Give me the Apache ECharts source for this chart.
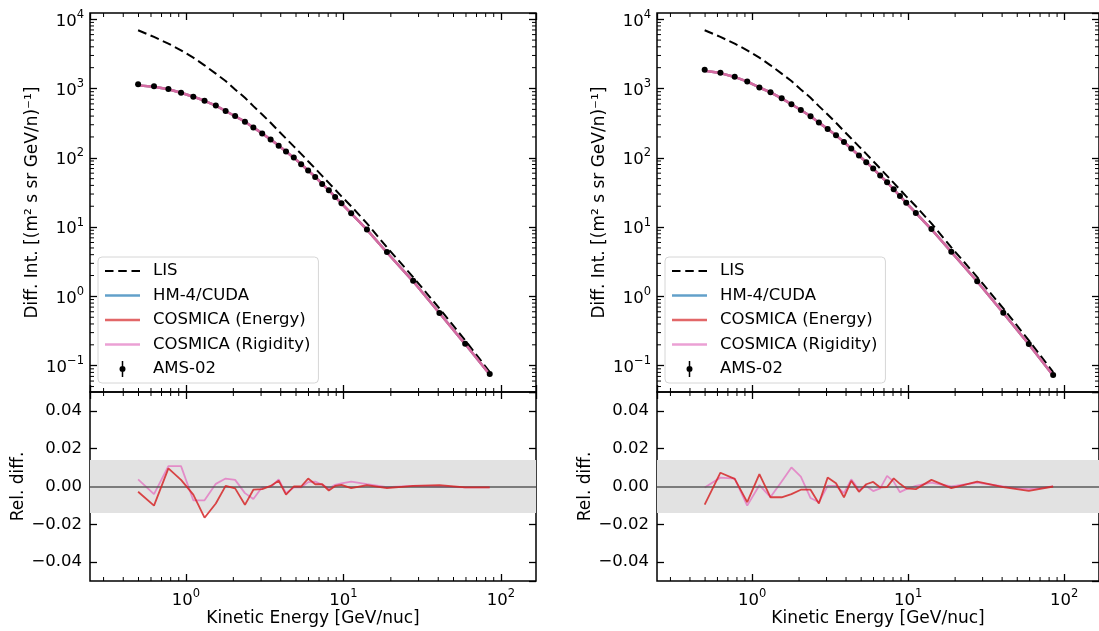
<!DOCTYPE html>
<html><head><meta charset="utf-8">
<script src="https://cdn.jsdelivr.net/npm/echarts@6/dist/echarts.min.js"></script>
<style>html,body{margin:0;padding:0;background:#fff}#c{width:1099px;height:631px}</style>
</head><body><div id="c"></div>
<script>
// ---------------- data ----------------
const energy = [0.497, 0.627, 0.774, 0.931, 1.114, 1.313, 1.548, 1.787, 2.053, 2.37, 2.68, 3.05, 3.45, 3.88, 4.32, 4.84, 5.39, 5.97, 6.62, 7.33, 8.08, 8.86, 9.72, 11.2, 14.1, 18.9, 27.7, 40.7, 59.3, 84.9];
const lisFlux = [6934, 5550, 4446, 3561, 2791, 2163, 1638, 1283, 971, 736, 557, 422, 320, 243, 190, 146, 114, 89.3, 70, 54.8, 43.4, 34.7, 27.8, 20, 11.3, 5.1, 1.9, 0.67, 0.232, 0.081];
const amsLeft = [1148, 1074, 982, 869, 760, 666, 570, 472, 400, 331, 274, 224, 184, 149, 123, 101, 80.8, 65.4, 53, 42, 34, 27.2, 22, 15.8, 9.27, 4.36, 1.68, 0.578, 0.208, 0.0757];
const modelLeft = [1110, 1060, 975, 868, 762, 665, 568, 474, 398, 332, 274, 225, 184, 150, 123, 100.5, 81, 65.5, 53, 42.2, 34, 27.3, 22, 15.8, 9.2, 4.3, 1.65, 0.575, 0.205, 0.0745];
const amsRight = [1866, 1688, 1476, 1263, 1033, 884, 724, 593, 491, 397, 322, 260, 211, 169, 136, 108, 86.5, 70, 55.5, 44.4, 35.1, 28.1, 22.5, 16, 9.36, 4.4, 1.65, 0.579, 0.206, 0.0733];
const modelRight = [1800, 1670, 1470, 1260, 1035, 882, 722, 592, 490, 398, 322, 260, 211, 169, 136, 108, 86.5, 70, 55.5, 44.4, 35.1, 28.1, 22.4, 16, 9.3, 4.38, 1.64, 0.575, 0.204, 0.072];
const relEnergyLeft = [-0.0028, -0.0101, 0.0096, 0.0035, -0.0043, -0.0165, -0.009, 0.0003, -0.001, -0.0097, -0.0017, -0.0014, 0.0003, 0.0031, -0.0043, 0, 0, 0.0042, 0.0012, 0.0012, -0.0021, 0.0003, 0.0009, -0.0009, 0.0007, -0.0009, 0.0003, 0.0007, -0.0005, -0.0005];
const relRigidityLeft = [0.0038, -0.004, 0.0108, 0.0108, -0.0073, -0.0073, 0.0014, 0.0042, 0.0035, -0.0035, -0.0066, -0.0003, -0.0003, 0.0038, -0.0035, -0.0005, -0.0005, 0.0023, 0.0026, 0.0009, -0.001, 0.0009, 0.0017, 0.0026, 0.0012, -0.0003, 0.0003, 0, -0.0005, -0.0005];
const relEnergyRight = [-0.0096, 0.0073, 0.004, -0.0083, 0.0066, -0.0057, -0.0057, -0.004, -0.0017, -0.0017, -0.009, 0.0047, 0.0017, -0.0057, 0.003, -0.0028, 0.0012, 0.0024, -0.0005, -0.0003, 0.0043, 0.0014, -0.001, -0.0014, 0.0035, -0.0009, 0.0026, -0.0003, -0.0023, 0];
const relRigidityRight = [-0.0005, 0.0047, 0.0042, -0.0101, 0.0007, -0.0056, 0.0026, 0.0101, 0.0052, -0.0061, -0.0083, 0.0003, 0.0003, -0.0035, 0.0038, -0.0017, 0.0003, -0.0024, -0.001, 0.0056, 0.0026, -0.003, -0.0014, 0.0003, 0.0021, 0, 0.0021, 0, -0.0014, 0];
const bandHalfWidth = 0.014;
const xMinorTicks = [0.3, 0.4, 0.5, 0.6, 0.7, 0.8, 0.9, 2, 3, 4, 5, 6, 7, 8, 9, 20, 30, 40, 50, 60, 70, 80, 90];
const yMinorTicks = [0.05, 0.06, 0.07, 0.08, 0.09, 0.2, 0.3, 0.4, 0.5, 0.6, 0.7, 0.8, 0.9, 2, 3, 4, 5, 6, 7, 8, 9, 20, 30, 40, 50, 60, 70, 80, 90, 200, 300, 400, 500, 600, 700, 800, 900, 2000, 3000, 4000, 5000, 6000, 7000, 8000, 9000];
const legendNames = ['LIS', 'HM-4/CUDA', 'COSMICA (Energy)', 'COSMICA (Rigidity)', 'AMS-02'];
const xTitle = 'Kinetic Energy [GeV/nuc]';
const yTitleTop = 'Diff. Int. [(m\u00B2 s sr GeV/n)\u207B\u00B9]';
const yTitleBottom = 'Rel. diff.';

// ---------------- styling / layout ----------------
const FONT = 'DejaVu Sans';
const X_MIN = 0.246, X_MAX = 167;
const Y_MIN = 0.0417, Y_MAX = 12300;
const R_MIN = -0.05, R_MAX = 0.05;
const C_BLUE = '#1f77b4', C_RED = '#d62728', C_PINK = '#e377c2';

function pow10Label(v) {
  const l = Math.log10(v);
  const e = Math.round(l);
  if (Math.abs(l - e) > 0.01) return '';
  const s = e < 0 ? '\u2212' + (-e) : String(e);
  return '{b|10}{s|' + s + '}';
}
function relLabel(v) {
  if (Math.abs(v * 50 - Math.round(v * 50)) > 1e-6) return '';
  if (Math.abs(v) < 1e-9) return '0.00';
  return (v < 0 ? '\u2212' : '') + Math.abs(v).toFixed(2);
}
const richSup = {
  b: {fontFamily: FONT, fontSize: 16.5, color: '#000', lineHeight: 21, verticalAlign: 'bottom'},
  s: {fontFamily: FONT, fontSize: 11.5, color: '#000', lineHeight: 12, verticalAlign: 'top'}
};

const grids = [
  {left: 90, top: 13, width: 446, height: 379},
  {left: 90, top: 392, width: 446, height: 189},
  {left: 657, top: 13, width: 446, height: 379},
  {left: 657, top: 392, width: 446, height: 189}
].map(g => Object.assign(g, {show: true, borderColor: '#000', borderWidth: 1.5, backgroundColor: 'transparent'}));

function xAx(gridIndex, position, showLabels) {
  return {
    type: 'log', logBase: 10, gridIndex, position, min: X_MIN, max: X_MAX,
    axisLine: {show: false, onZero: false},
    axisTick: {show: true, inside: true, length: 7, lineStyle: {color: '#000', width: 1.3}},
    splitLine: {show: false},
    axisLabel: showLabels ? {show: true, formatter: pow10Label, rich: richSup, margin: 7, showMinLabel: false, showMaxLabel: false} : {show: false},
    name: showLabels ? xTitle : '', nameLocation: 'middle', nameGap: 26,
    nameTextStyle: {fontFamily: FONT, fontSize: 17, color: '#000'}
  };
}
function yLogAx(gridIndex, position, showLabels) {
  return {
    type: 'log', logBase: 10, gridIndex, position, min: Y_MIN, max: Y_MAX,
    axisLine: {show: false, onZero: false},
    axisTick: {show: true, inside: true, length: 7, lineStyle: {color: '#000', width: 1.3}},
    splitLine: {show: false},
    axisLabel: showLabels ? {show: true, formatter: pow10Label, rich: richSup, margin: 6, showMinLabel: false, showMaxLabel: false} : {show: false},
    name: showLabels ? yTitleTop : '', nameLocation: 'middle', nameGap: 49,
    nameTextStyle: {fontFamily: FONT, fontSize: 17, color: '#000'}
  };
}
function yRelAx(gridIndex, position, showLabels) {
  return {
    type: 'value', gridIndex, position, min: R_MIN, max: R_MAX,
    axisLine: {show: false, onZero: false},
    axisTick: {show: true, inside: true, length: 7, lineStyle: {color: '#000', width: 1.3}},
    splitLine: {show: false},
    axisLabel: showLabels ? {show: true, formatter: relLabel, margin: 8, showMinLabel: false, showMaxLabel: false,
      fontFamily: FONT, fontSize: 16.5, color: '#000'} : {show: false},
    name: showLabels ? yTitleBottom : '', nameLocation: 'middle', nameGap: 49,
    nameTextStyle: {fontFamily: FONT, fontSize: 17, color: '#000'}
  };
}

const xAxes = [], yAxes = [];
for (let p = 0; p < 2; p++) {
  const gTop = p * 2, gBot = p * 2 + 1;
  xAxes.push(xAx(gTop, 'bottom', false), xAx(gTop, 'top', false), xAx(gBot, 'bottom', true), xAx(gBot, 'top', false));
  yAxes.push(yLogAx(gTop, 'left', true), yLogAx(gTop, 'right', false), yRelAx(gBot, 'left', true), yRelAx(gBot, 'right', false));
}

function minorTicks(axisIdx, logY) {
  const yRef = logY ? 1 : 0;
  const data = xMinorTicks.map(v => [v, yRef, 0]);
  if (logY) yMinorTicks.forEach(v => data.push([1, v, 1]));
  return {
    type: 'custom', xAxisIndex: axisIdx, yAxisIndex: axisIdx, silent: true, z: 20, animation: false,
    data,
    renderItem(params, api) {
      const cs = params.coordSys;
      const st = {stroke: '#000', lineWidth: 1};
      if (api.value(2) === 0) {
        const x = api.coord([api.value(0), yRef])[0];
        return {type: 'group', children: [
          {type: 'line', shape: {x1: x, y1: cs.y, x2: x, y2: cs.y + 4}, style: st},
          {type: 'line', shape: {x1: x, y1: cs.y + cs.height, x2: x, y2: cs.y + cs.height - 4}, style: st}
        ]};
      }
      const y = api.coord([1, api.value(1)])[1];
      return {type: 'group', children: [
        {type: 'line', shape: {x1: cs.x, y1: y, x2: cs.x + 4, y2: y}, style: st},
        {type: 'line', shape: {x1: cs.x + cs.width, y1: y, x2: cs.x + cs.width - 4, y2: y}, style: st}
      ]};
    }
  };
}

function pairs(xs, ys) { return xs.map((x, i) => [x, ys[i]]); }

function topSeries(axisIdx, ams, model) {
  const base = {xAxisIndex: axisIdx, yAxisIndex: axisIdx, animation: false, silent: true};
  return [
    Object.assign({type: 'line', name: 'LIS', data: pairs(energy, lisFlux), symbol: 'none', z: 3,
      lineStyle: {color: '#000', width: 2, type: [9, 4.5]}, itemStyle: {color: '#000'}}, base),
    Object.assign({type: 'line', name: 'HM-4/CUDA', data: pairs(energy, model), symbol: 'none', z: 4,
      lineStyle: {color: C_BLUE, width: 2.5, opacity: 0.7}, itemStyle: {color: C_BLUE, opacity: 0.7}}, base),
    Object.assign({type: 'line', name: 'COSMICA (Energy)', data: pairs(energy, model), symbol: 'none', z: 5,
      lineStyle: {color: C_RED, width: 2.5, opacity: 0.7}, itemStyle: {color: C_RED, opacity: 0.7}}, base),
    Object.assign({type: 'line', name: 'COSMICA (Rigidity)', data: pairs(energy, model), symbol: 'none', z: 6,
      lineStyle: {color: C_PINK, width: 2.5, opacity: 0.7}, itemStyle: {color: C_PINK, opacity: 0.7}}, base),
    Object.assign({type: 'scatter', name: 'AMS-02', data: pairs(energy, ams), symbol: 'circle', symbolSize: 6, z: 8,
      itemStyle: {color: '#000', opacity: 1}}, base),
    minorTicks(axisIdx, true)
  ];
}
function bottomSeries(axisIdx, relE, relR) {
  const base = {xAxisIndex: axisIdx, yAxisIndex: axisIdx, animation: false, silent: true};
  return [
    Object.assign({type: 'line', name: 'band', data: [[1, 0]], symbol: 'none', z: 1,
      lineStyle: {opacity: 0},
      markArea: {silent: true, itemStyle: {color: '#e2e2e2'}, data: [[{yAxis: -bandHalfWidth}, {yAxis: bandHalfWidth}]]},
      markLine: {silent: true, symbol: 'none', label: {show: false}, lineStyle: {color: '#5a5a5a', width: 1.6, type: 'solid'}, data: [{yAxis: 0}]}
    }, base),
    Object.assign({type: 'line', name: 'COSMICA (Energy)', data: pairs(energy, relE), symbol: 'none', z: 5,
      lineStyle: {color: C_RED, width: 1.8, opacity: 0.85}, itemStyle: {color: C_RED}}, base),
    Object.assign({type: 'line', name: 'COSMICA (Rigidity)', data: pairs(energy, relR), symbol: 'none', z: 4,
      lineStyle: {color: C_PINK, width: 1.8, opacity: 0.8}, itemStyle: {color: C_PINK}}, base),
    minorTicks(axisIdx, false)
  ];
}

const legendIcons = {
  'LIS': 'path://M0,0h8.5v2h-8.5z M13.25,0h8.5v2h-8.5z M26.5,0h8.5v2h-8.5z',
  'HM-4/CUDA': 'path://M0,0h35v2.5h-35z',
  'COSMICA (Energy)': 'path://M0,0h35v2.5h-35z',
  'COSMICA (Rigidity)': 'path://M0,0h35v2.5h-35z',
  'AMS-02': 'path://M2.25,0h1.5v16h-1.5z M0,8a3,3 0 1,1 6,0a3,3 0 1,1 -6,0z'
};
function legendAt(left) {
  return {
    left, top: 257, orient: 'vertical', selectedMode: false,
    data: legendNames.map(n => ({name: n, icon: legendIcons[n]})),
    itemWidth: 35, itemHeight: 16, itemGap: 4.5,
    padding: [4, 8, 4, 7],
    backgroundColor: 'rgba(255,255,255,0.85)', borderColor: '#d6d6d6', borderWidth: 1, borderRadius: 4,
    textStyle: {fontFamily: FONT, fontSize: 16.5, color: '#000', lineHeight: 20, padding: [0, 0, 0, 8]}
  };
}

const chart = echarts.init(document.getElementById('c'), null, {renderer: 'canvas'});
chart.setOption({
  backgroundColor: '#fff',
  animation: false,
  grid: grids,
  xAxis: xAxes,
  yAxis: yAxes,
  legend: [legendAt(98), legendAt(665)],
  series: [
    ...topSeries(0, amsLeft, modelLeft),
    ...bottomSeries(2, relEnergyLeft, relRigidityLeft),
    ...topSeries(4, amsRight, modelRight),
    ...bottomSeries(6, relEnergyRight, relRigidityRight)
  ]
});
</script></body></html>
